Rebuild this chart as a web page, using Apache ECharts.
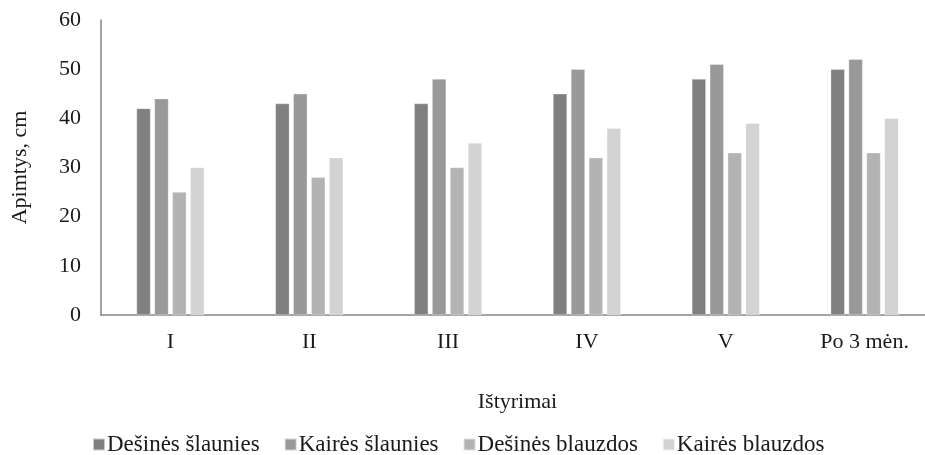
<!DOCTYPE html>
<html>
<head>
<meta charset="utf-8">
<script src="https://cdn.jsdelivr.net/npm/echarts@6/dist/echarts.min.js"></script>
<style>
  html, body { margin: 0; padding: 0; background: #fff; }
  #chart { width: 925px; height: 455px; }
</style>
</head>
<body>
<div id="chart"></div>
<script>
// Survey stages on the category axis
const categories = ['I', 'II', 'III', 'IV', 'V', 'Po 3 mėn.'];
// Circumference measurements, cm
const desinesSlaunies = [42, 43, 43, 45, 48, 50];
const kairesSlaunies = [44, 45, 48, 50, 51, 52];
const desinesBlauzdos = [25, 28, 30, 32, 33, 33];
const kairesBlauzdos = [30, 32, 35, 38, 39, 40];
const yTicks = [0, 10, 20, 30, 40, 50, 60];

const seriesDefs = [
  { name: 'Dešinės šlaunies', data: desinesSlaunies, color: '#808080' },
  { name: 'Kairės šlaunies', data: kairesSlaunies, color: '#999999' },
  { name: 'Dešinės blauzdos', data: desinesBlauzdos, color: '#b3b3b3' },
  { name: 'Kairės blauzdos', data: kairesBlauzdos, color: '#d3d3d3' }
];

const font = 'Liberation Serif';
const textColor = '#1a1a1a';
const chart = echarts.init(document.getElementById('chart'));
chart.setOption({
  animation: false,
  textStyle: { fontFamily: font },
  grid: {
    left: 101, width: 833, top: 20, height: 295,
    containLabel: false,
    outerBoundsMode: 'none'
  },
  legend: {
    top: 428,
    left: 87,
    itemWidth: 12,
    itemHeight: 12,
    itemGap: 24,
    icon: 'rect',
    textStyle: { fontFamily: font, fontSize: 23, color: textColor, padding: [0, 0, 0, -3] },
    data: seriesDefs.map(s => s.name)
  },
  xAxis: {
    type: 'category',
    data: categories,
    name: 'Ištyrimai',
    nameLocation: 'middle',
    nameGap: 76,
    nameTextStyle: { fontFamily: font, fontSize: 22, color: textColor },
    axisLine: { lineStyle: { color: '#868686', width: 1.5 } },
    axisTick: { show: false },
    axisLabel: { fontFamily: font, fontSize: 22, color: textColor, margin: 16 }
  },
  yAxis: {
    type: 'value',
    min: yTicks[0],
    max: yTicks[yTicks.length - 1],
    interval: 10,
    name: 'Apimtys, cm',
    nameLocation: 'middle',
    nameRotate: 90,
    nameGap: 70,
    nameTextStyle: { fontFamily: font, fontSize: 22, color: textColor },
    axisLine: { show: true, lineStyle: { color: '#868686', width: 1.5 } },
    axisTick: { show: false },
    splitLine: { show: false },
    axisLabel: { fontFamily: font, fontSize: 22, color: textColor, margin: 20 }
  },
  series: seriesDefs.map(s => ({
    name: s.name,
    type: 'bar',
    data: s.data,
    barWidth: 14,
    barGap: '28%',
    itemStyle: { color: s.color, borderColor: 'rgba(255,255,255,0.6)', borderWidth: 0.5 }
  }))
});
</script>
</body>
</html>
